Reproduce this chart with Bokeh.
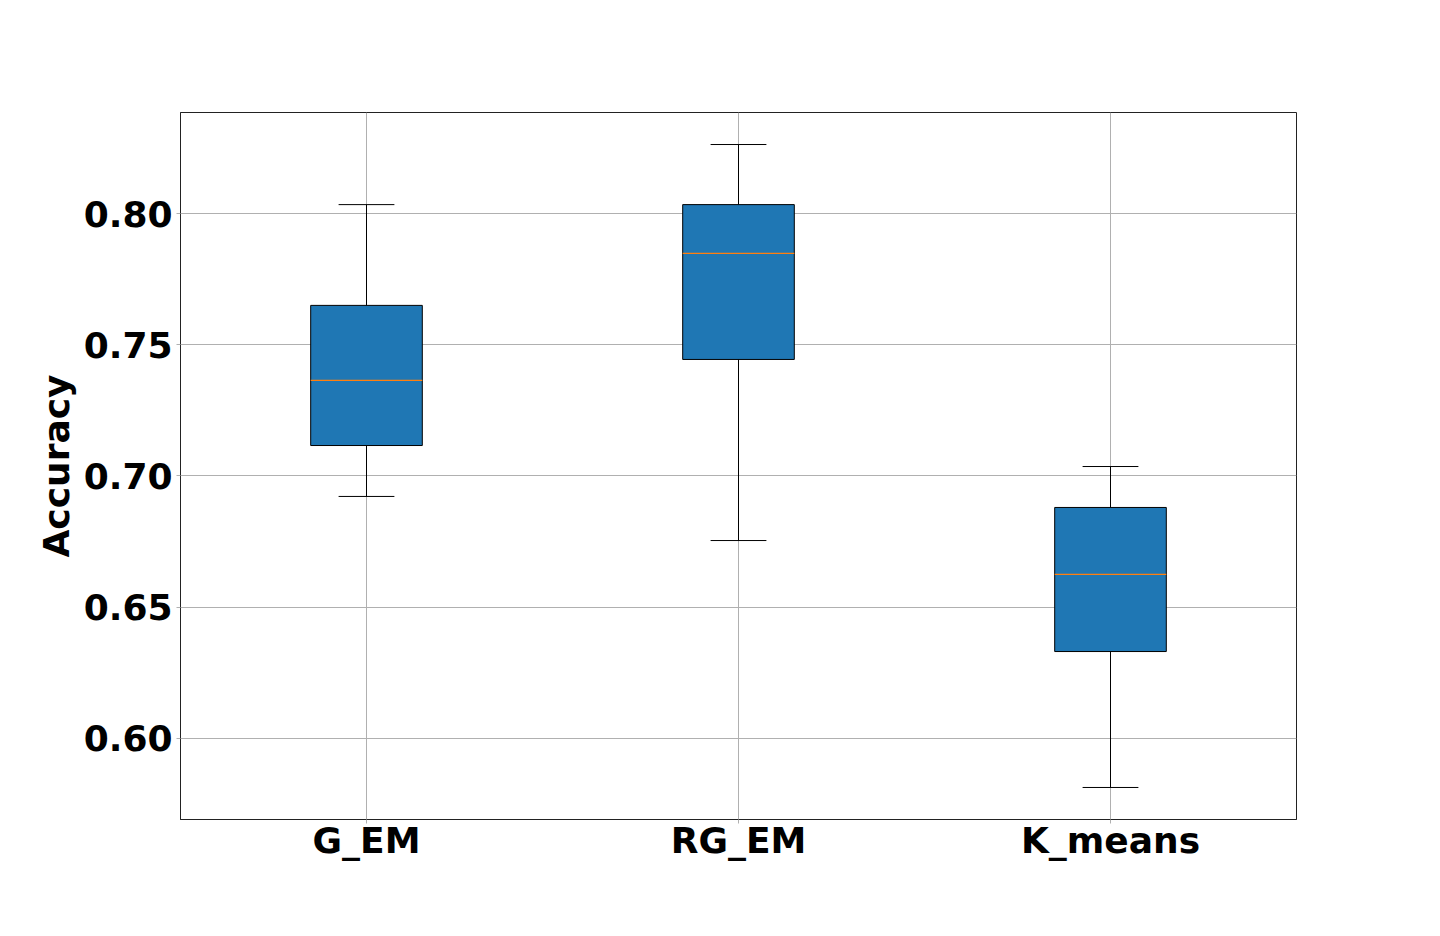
from bokeh.plotting import figure
from bokeh.models import ColumnDataSource, FixedTicker, Range1d
from bokeh.embed import file_html
from bokeh.resources import INLINE

categories = ["G_EM", "RG_EM", "K_means"]
positions = [1, 2, 3]
whisker_low = [0.6922, 0.6754, 0.5813]
q1 = [0.7116, 0.7444, 0.6331]
median = [0.7364, 0.7848, 0.6625]
q3 = [0.7650, 0.8034, 0.6880]
whisker_high = [0.8034, 0.8263, 0.7036]
y_ticks = [0.60, 0.65, 0.70, 0.75, 0.80]

BOX_W = 0.3
CAP_W = 0.15
FONT = "DejaVu Sans"

src = ColumnDataSource(dict(
    x=positions, lo=whisker_low, q1=q1, med=median, q3=q3, hi=whisker_high,
    xl=[p - BOX_W / 2 for p in positions], xr=[p + BOX_W / 2 for p in positions],
    cl=[p - CAP_W / 2 for p in positions], cr=[p + CAP_W / 2 for p in positions],
))

p = figure(width=1424, height=920, output_backend="svg", toolbar_location=None,
           x_range=Range1d(0.5, 3.5), y_range=Range1d(0.5691, 0.8385),
           min_border_left=180, min_border_right=128, min_border_top=112, min_border_bottom=101)
p.background_fill_color = "white"
p.border_fill_color = "white"
p.outline_line_color = "#222222"
p.outline_line_width = 1

# grid
p.xgrid.grid_line_color = "#b0b0b0"
p.ygrid.grid_line_color = "#b0b0b0"
p.xgrid.grid_line_width = 1
p.ygrid.grid_line_width = 1

# whiskers
p.segment(x0="x", y0="q3", x1="x", y1="hi", source=src, line_color="black", line_width=1)
p.segment(x0="x", y0="q1", x1="x", y1="lo", source=src, line_color="black", line_width=1)
p.segment(x0="cl", y0="hi", x1="cr", y1="hi", source=src, line_color="black", line_width=1)
p.segment(x0="cl", y0="lo", x1="cr", y1="lo", source=src, line_color="black", line_width=1)
# boxes
p.vbar(x="x", width=BOX_W, bottom="q1", top="q3", source=src,
       fill_color="#1f77b4", line_color="black", line_width=1)
# medians
p.segment(x0="xl", y0="med", x1="xr", y1="med", source=src, line_color="#ff7f0e", line_width=1.2)

# axes
p.xaxis.ticker = FixedTicker(ticks=positions)
p.xaxis.major_label_overrides = {pos: c for pos, c in zip(positions, categories)}
p.yaxis.ticker = FixedTicker(ticks=y_ticks)
p.yaxis.major_label_overrides = {t: f"{t:.2f}" for t in y_ticks}
for ax in (p.xaxis[0], p.yaxis[0]):
    ax.axis_line_color = "#222222"
    ax.major_tick_line_color = "#b0b0b0"
    ax.major_tick_out = 4
    ax.major_tick_in = 0
    ax.minor_tick_line_color = None
    ax.major_label_text_font = FONT
    ax.major_label_text_font_style = "bold"
    ax.major_label_text_font_size = "36px"
    ax.major_label_text_color = "black"
p.yaxis.major_label_standoff = 4
p.xaxis.major_label_standoff = -4
p.yaxis.axis_label = "Accuracy"
p.yaxis.axis_label_text_font = FONT
p.yaxis.axis_label_text_font_style = "bold"
p.yaxis.axis_label_text_font_size = "36px"
p.yaxis.axis_label_text_color = "black"
p.yaxis.axis_label_standoff = 4

open("out.html", "w").write(file_html(p, INLINE))
